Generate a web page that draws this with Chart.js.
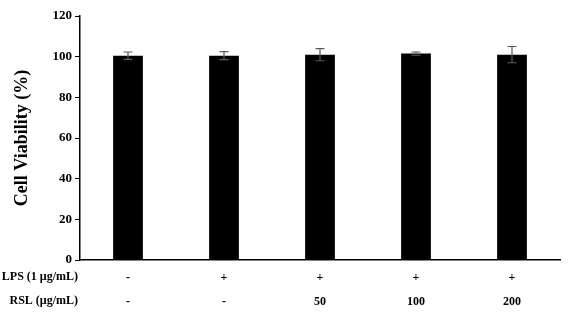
<!DOCTYPE html>
<html>
<head>
<meta charset="utf-8">
<script src="https://cdn.jsdelivr.net/npm/chart.js@4"></script>
<style>
  html, body { margin: 0; padding: 0; background: #fff; }
  #wrap { width: 568px; height: 316px; }
</style>
</head>
<body>
<div id="wrap"><canvas id="chart" width="568" height="316"></canvas></div>
<script>
// Data
const lpsRow = ['-', '+', '+', '+', '+'];
const rslRow = ['-', '-', '50', '100', '200'];
const viability = [100.5, 100.5, 101, 101.5, 101];
const viabilityErr = [1.8, 2, 3, 0.8, 4];
const rowHeaders = ['LPS (1 \u03bcg/mL)', 'RSL (\u03bcg/mL)'];
const yTicks = [0, 20, 40, 60, 80, 100, 120];

const serif = '"Liberation Serif", "Times New Roman", serif';

// error bars drawn over the bars
const errorBars = {
    id: 'errorBars',
    afterDatasetsDraw(chart) {
        const ctx = chart.ctx;
        const x = chart.scales.x, y = chart.scales.y;
        ctx.save();
        ctx.strokeStyle = '#5a5a5a';
        ctx.lineWidth = 1.2;
        viability.forEach((v, i) => {
            const px = x.getPixelForValue(i);
            const top = y.getPixelForValue(v + viabilityErr[i]);
            const bot = y.getPixelForValue(v - viabilityErr[i]);
            ctx.beginPath();
            ctx.moveTo(px, top); ctx.lineTo(px, bot);
            ctx.moveTo(px - 4.5, top); ctx.lineTo(px + 4.5, top);
            ctx.moveTo(px - 4.5, bot); ctx.lineTo(px + 4.5, bot);
            ctx.stroke();
        });
        ctx.restore();
    }
};

// row headers for the treatment table under the axis
const rowLabels = {
    id: 'rowLabels',
    afterDraw(chart) {
        const ctx = chart.ctx;
        const area = chart.chartArea;
        ctx.save();
        ctx.font = 'bold 12px ' + serif;
        ctx.fillStyle = '#000';
        ctx.textAlign = 'right';
        ctx.textBaseline = 'middle';
        rowHeaders.forEach((t, r) => {
            ctx.fillText(t, area.left - 2, area.bottom + 17 + r * 24);
        });
        ctx.restore();
    }
};

new Chart(document.getElementById('chart'), {
    type: 'bar',
    data: {
        labels: lpsRow.map((l, i) => [l, rslRow[i]]),
        datasets: [{
            data: viability,
            backgroundColor: '#000',
            borderWidth: 0,
            categoryPercentage: 1,
            barPercentage: 0.31
        }]
    },
    options: {
        responsive: false,
        animation: false,
        devicePixelRatio: 1,
        layout: { padding: { top: 16, right: 8, left: 0, bottom: 0 } },
        plugins: {
            legend: { display: false },
            tooltip: { enabled: false }
        },
        scales: {
            x: {
                grid: { display: false, drawTicks: false },
                border: { color: '#000', width: 1.5 },
                ticks: {
                    color: '#000',
                    padding: 6,
                    maxRotation: 0,
                    font: { family: serif, size: 12, weight: 'bold', lineHeight: 2 }
                },
                afterFit: function(scale) { scale.height = 56; }
            },
            y: {
                min: 0,
                max: 120,
                afterBuildTicks: function(scale) {
                    scale.ticks = yTicks.map(v => ({ value: v }));
                },
                grid: { drawOnChartArea: false, color: '#000', tickLength: 5 },
                border: { color: '#000', width: 1.5 },
                ticks: {
                    color: '#000',
                    padding: 3,
                    font: { family: serif, size: 13, weight: 'bold' }
                },
                title: {
                    display: true,
                    text: 'Cell Viability (%)',
                    color: '#000',
                    padding: { top: 12, bottom: 0 },
                    font: { family: serif, size: 18, weight: 'bold' }
                },
                afterFit: function(scale) { scale.width = 80; }
            }
        }
    },
    plugins: [errorBars, rowLabels]
});
</script>
</body>
</html>
